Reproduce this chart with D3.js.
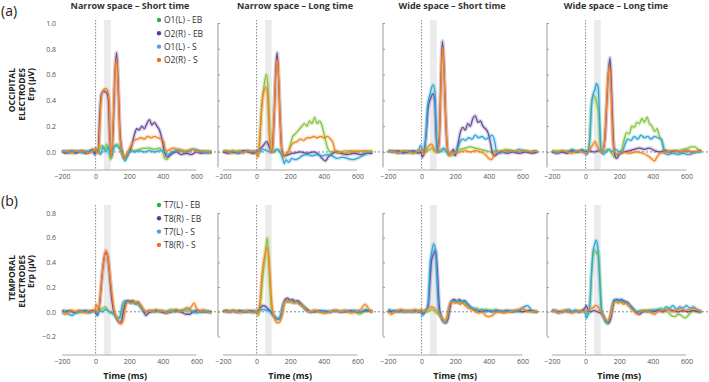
<!DOCTYPE html>
<html>
<head>
<meta charset="utf-8">
<script src="https://cdn.jsdelivr.net/npm/d3@7"></script>
<style>
  body { margin: 0; background: #fff; }
  text { font-family: "Open Sans", sans-serif; }
</style>
</head>
<body>
<div id="canvas"></div>
<script>
// Canvas size.
const WIDTH = 709;
const HEIGHT = 382;

// Labels and ticks.
const conditions = ["Narrow space – Short time", "Narrow space – Long time", "Wide space – Short time", "Wide space – Long time"];
const occLegend = ["O1(L) - EB", "O2(R) - EB", "O1(L) - S", "O2(R) - S"];
const tmpLegend = ["T7(L) - EB", "T8(R) - EB", "T7(L) - S", "T8(R) - S"];
const timeTicks = [-200, 0, 200, 400, 600];
const occTicks = [0, 0.2, 0.4, 0.6, 0.8, 1.0];
const tmpTicks = [-0.2, 0, 0.2, 0.4, 0.6, 0.8];

// Occipital, narrow space - short time. [time ms, erp uV]
const occNS_O1EB = [[-200,0.01],[-180,0],[-160,0.01],[-140,-0.01],[-120,0.01],[-100,0],[-80,0.01],[-60,-0.01],[-40,0.01],[-20,0],[0,0.02],[10,-0.01],[25,0.03],[40,0.05],[55,0.02],[65,0.06],[80,0.0],[90,-0.06],[100,0.0],[115,0.05],[130,0.06],[150,0.02],[165,-0.02],[180,-0.05],[195,-0.01],[210,0.02],[230,0.01],[260,0.02],[290,0.03],[320,0.03],[350,0.02],[380,0.03],[400,0.0],[410,-0.05],[425,-0.06],[440,-0.02],[470,0.01],[500,0.02],[540,0.01],[580,0.02],[620,0],[660,0.01],[690,0.0]];
const occNS_O2EB = [[-200,0.01],[-180,-0.01],[-160,0],[-140,0.01],[-120,-0.01],[-100,0],[-80,0.01],[-60,-0.01],[-40,0],[-20,0.02],[-5,-0.02],[5,0.02],[15,0.0],[25,0.3],[35,0.45],[50,0.47],[65,0.46],[75,0.42],[85,0.1],[95,-0.03],[105,0.2],[115,0.6],[125,0.77],[135,0.5],[145,0.15],[155,0.02],[170,-0.05],[185,-0.03],[200,0.0],[215,0.05],[230,0.13],[245,0.18],[260,0.17],[275,0.2],[290,0.18],[305,0.22],[320,0.25],[335,0.21],[350,0.23],[365,0.2],[380,0.17],[395,0.1],[410,0.0],[425,-0.04],[440,-0.03],[460,-0.01],[480,0.0],[510,-0.02],[540,-0.01],[570,-0.02],[600,0.0],[630,-0.01],[660,0.0],[690,-0.01]];
const occNS_O1S = [[-200,0],[-180,0.01],[-160,-0.01],[-140,0.01],[-120,0],[-100,0.01],[-80,-0.01],[-60,0.01],[-40,0],[-20,0.01],[0,0],[15,0.02],[30,-0.02],[45,0.04],[60,0.0],[75,0.04],[90,-0.04],[105,0.02],[120,0.05],[140,0.03],[160,-0.02],[175,-0.07],[190,-0.03],[205,0.01],[230,0],[260,0.01],[290,0.0],[320,0.01],[350,0.0],[380,0.01],[410,0.0],[430,-0.02],[460,0.0],[500,0.01],[540,0.0],[580,0.02],[620,0.01],[660,-0.01],[690,0.0]];
const occNS_O2S = [[-200,0.01],[-180,0],[-160,0.01],[-140,-0.01],[-120,0.01],[-100,0],[-80,0.01],[-60,0],[-40,-0.01],[-20,0.01],[0,0.03],[10,-0.01],[20,0.05],[30,0.35],[40,0.46],[55,0.49],[70,0.48],[80,0.4],[88,0.05],[95,-0.04],[105,0.25],[115,0.6],[125,0.72],[135,0.45],[145,0.12],[155,0.01],[170,-0.05],[185,-0.02],[200,0.02],[215,0.06],[230,0.09],[250,0.1],[270,0.11],[290,0.1],[310,0.12],[330,0.11],[350,0.12],[370,0.11],[390,0.1],[405,0.08],[415,0.02],[430,0.01],[460,0.03],[490,0.02],[520,0.0],[550,0.01],[580,0.02],[610,0.0],[640,0.01],[670,0.0],[690,0.01]];

// Occipital, narrow space - long time.
const occNL_O1EB = [[-200,0.0],[-170,0.01],[-140,-0.01],[-110,0.01],[-80,0],[-50,0.01],[-20,-0.01],[0,0.0],[10,-0.03],[20,0.1],[30,0.35],[45,0.52],[58,0.6],[70,0.45],[80,0.1],[90,0.0],[105,0.0],[120,0.02],[140,0.0],[160,-0.03],[180,-0.02],[200,0.05],[215,0.12],[230,0.14],[250,0.17],[270,0.2],[285,0.22],[300,0.2],[315,0.24],[330,0.22],[345,0.27],[360,0.22],[375,0.24],[390,0.2],[405,0.12],[420,0.04],[440,0.0],[470,0.01],[500,0.0],[530,0.01],[560,0.0],[600,0.01],[640,0.0],[690,0.01]];
const occNL_O2EB = [[-200,0],[-170,-0.01],[-140,0],[-110,-0.01],[-80,0.01],[-50,0],[-20,-0.01],[0,0],[20,0.02],[40,0.05],[60,0.08],[75,0.04],[90,0.0],[105,0.3],[115,0.65],[122,0.77],[130,0.6],[140,0.25],[150,0.02],[165,-0.03],[190,-0.02],[220,-0.01],[260,0.0],[300,-0.01],[340,0.0],[370,-0.02],[390,-0.05],[410,-0.07],[425,-0.04],[445,-0.02],[470,0.0],[500,-0.01],[540,-0.02],[580,-0.01],[620,-0.02],[660,-0.01],[690,-0.01]];
const occNL_O1S = [[-200,0.01],[-170,0],[-140,0.01],[-110,-0.01],[-80,0.0],[-50,0.01],[-20,0],[0,0.01],[20,0.0],[40,0.02],[60,0.01],[80,0.0],[100,0.0],[120,0.02],[140,0.0],[155,-0.05],[165,-0.09],[175,-0.06],[190,-0.08],[210,-0.05],[230,-0.06],[250,-0.05],[270,-0.03],[300,-0.02],[330,-0.03],[360,-0.02],[390,-0.03],[420,-0.02],[450,-0.03],[480,-0.05],[510,-0.04],[540,-0.05],[570,-0.06],[600,-0.05],[630,-0.03],[660,-0.01],[690,0.0]];
const occNL_O2S = [[-200,0.0],[-180,0.01],[-160,-0.01],[-140,0.01],[-120,0],[-100,0.01],[-80,-0.01],[-60,0.01],[-40,0],[-20,0.01],[0,-0.01],[8,-0.04],[18,0.1],[28,0.3],[40,0.45],[55,0.5],[65,0.45],[75,0.15],[85,0.0],[95,0.0],[105,0.3],[115,0.6],[122,0.72],[130,0.6],[140,0.25],[150,0.02],[160,-0.04],[175,-0.01],[190,0.0],[205,0.05],[220,0.07],[240,0.08],[260,0.1],[280,0.09],[300,0.11],[320,0.11],[340,0.12],[360,0.11],[380,0.12],[400,0.11],[420,0.12],[440,0.1],[455,0.07],[465,0.02],[480,-0.01],[500,0.0],[530,-0.01],[560,0.01],[600,0.0],[640,0.01],[690,0.0]];

// Occipital, wide space - short time.
const occWS_O1EB = [[-200,0],[-170,0.01],[-140,0],[-110,0.01],[-80,-0.01],[-50,0],[-20,0.01],[0,0],[20,0.02],[40,0.01],[60,0.03],[80,0.0],[100,0.0],[130,0.02],[160,-0.02],[180,-0.03],[200,0.0],[230,0.02],[260,0.03],[290,0.04],[320,0.03],[350,0.02],[380,0.01],[410,0.0],[440,0.01],[470,0.0],[500,0.02],[540,0.01],[580,0.0],[620,0.01],[660,0.0],[690,0.0]];
const occWS_O2EB = [[-200,0.01],[-170,0],[-140,0.01],[-110,-0.01],[-80,0],[-50,0.01],[-20,-0.01],[-5,0.0],[5,-0.04],[15,0.0],[28,0.15],[40,0.35],[55,0.42],[68,0.45],[78,0.4],[88,0.1],[95,0.0],[105,0.1],[115,0.55],[124,0.86],[132,0.7],[142,0.3],[152,0.05],[162,-0.02],[175,-0.01],[190,0.02],[200,-0.03],[215,0.05],[230,0.15],[245,0.19],[260,0.17],[275,0.22],[290,0.2],[305,0.26],[320,0.28],[335,0.23],[350,0.24],[365,0.2],[380,0.18],[395,0.15],[410,0.07],[420,0.0],[435,-0.03],[455,-0.01],[480,0.0],[510,-0.01],[540,0.0],[580,-0.01],[620,0.0],[660,-0.01],[690,0.0]];
const occWS_O1S = [[-200,0.0],[-170,0.01],[-140,-0.01],[-110,0.0],[-80,0.01],[-50,-0.01],[-20,0.01],[-5,0.05],[5,0.02],[15,0.0],[25,0.12],[35,0.35],[50,0.45],[60,0.5],[70,0.52],[80,0.45],[88,0.15],[95,0.02],[110,0.0],[130,0.03],[150,0.0],[165,-0.02],[180,0.0],[200,-0.01],[215,0.03],[230,0.08],[245,0.1],[260,0.09],[280,0.11],[300,0.1],[320,0.13],[340,0.11],[360,0.12],[380,0.1],[400,0.11],[420,0.13],[435,0.08],[445,0.01],[460,-0.01],[490,0.0],[520,0.01],[550,0.0],[580,0.02],[610,0.01],[640,0.0],[670,0.01],[690,0.0]];
const occWS_O2S = [[-200,0.01],[-170,0],[-140,-0.01],[-110,0.01],[-80,0],[-50,-0.01],[-20,0.01],[0,0.02],[15,-0.02],[30,0.02],[45,0.05],[60,0.06],[75,0.02],[88,0.0],[98,0.0],[108,0.2],[118,0.65],[126,0.81],[134,0.6],[144,0.25],[154,0.03],[165,-0.03],[180,0.0],[200,-0.01],[230,0.0],[260,0.01],[290,0.0],[320,0.01],[350,0.0],[380,-0.02],[400,-0.05],[415,-0.06],[430,-0.03],[450,0.0],[480,0.01],[510,0.0],[540,0.01],[580,0.0],[620,0.01],[660,0.0],[690,0.01]];

// Occipital, wide space - long time.
const occWL_O1EB = [[-200,0.0],[-170,0.01],[-140,0],[-110,0.01],[-80,0],[-50,0.01],[-20,0],[0,0.01],[15,0.0],[25,0.12],[35,0.38],[45,0.44],[58,0.42],[68,0.36],[78,0.3],[86,0.08],[95,0.0],[110,0.0],[130,0.02],[150,0.0],[170,-0.04],[185,-0.02],[200,0.0],[215,0.02],[230,0.1],[245,0.15],[260,0.14],[275,0.2],[290,0.19],[305,0.23],[320,0.22],[335,0.26],[350,0.23],[365,0.27],[380,0.22],[395,0.2],[410,0.16],[425,0.18],[440,0.12],[455,0.08],[470,0.02],[490,0.01],[520,0.0],[550,0.01],[580,0.02],[610,0.03],[630,0.04],[650,0.04],[670,0.02],[690,0.01]];
const occWL_O2EB = [[-200,0.0],[-170,-0.01],[-140,0.0],[-110,-0.01],[-80,0.01],[-50,0],[-20,0.01],[0,0.0],[20,0.01],[50,0.0],[80,0.01],[100,0.0],[115,0.1],[125,0.35],[135,0.6],[145,0.73],[155,0.45],[165,0.1],[175,-0.03],[185,-0.05],[200,-0.02],[230,0.0],[260,0.01],[290,0.02],[320,0.03],[350,0.02],[380,0.03],[410,0.01],[440,0.0],[470,0.01],[500,0.0],[530,0.01],[560,0.0],[600,0.01],[640,0.0],[690,0.01]];
const occWL_O1S = [[-200,0.01],[-170,-0.01],[-140,0.01],[-110,0],[-80,0.02],[-50,0],[-20,0.02],[-5,0.0],[5,-0.02],[15,0.0],[25,0.1],[35,0.35],[45,0.45],[55,0.48],[65,0.53],[75,0.5],[85,0.2],[92,0.02],[105,-0.02],[120,0.0],[140,0.02],[160,0.0],[180,0.02],[200,0.0],[220,0.01],[235,0.06],[250,0.1],[270,0.09],[290,0.12],[310,0.1],[330,0.13],[350,0.11],[370,0.12],[390,0.1],[410,0.12],[430,0.11],[450,0.1],[462,0.04],[470,-0.01],[490,-0.02],[520,-0.01],[550,-0.02],[580,-0.01],[610,-0.02],[640,-0.01],[670,0.0],[690,0.0]];
const occWL_O2S = [[-200,0.01],[-170,0.0],[-140,0.01],[-110,0.0],[-80,-0.01],[-50,0.01],[-20,0.0],[0,-0.01],[20,0.01],[40,0.05],[55,0.08],[70,0.04],[85,0.01],[100,0.0],[112,0.08],[122,0.3],[132,0.55],[142,0.67],[152,0.45],[162,0.1],[172,0.0],[190,-0.02],[220,0.0],[260,-0.01],[300,0.0],[340,-0.01],[370,-0.03],[390,-0.05],[410,-0.07],[425,-0.04],[445,-0.01],[480,0.0],[520,0.01],[560,0.0],[600,0.01],[640,0.0],[690,0.01]];

// Temporal, narrow space - short time.
const tmpNS_T7EB = [[-200,0.0],[-180,0.01],[-160,0.0],[-140,0.01],[-120,0.0],[-100,-0.01],[-80,0.0],[-60,0.01],[-40,0.0],[-20,0.01],[0,0.0],[15,0.01],[35,0.02],[55,0.04],[75,0.01],[95,-0.01],[115,-0.02],[135,-0.05],[150,-0.03],[162,0.03],[172,0.07],[188,0.08],[205,0.09],[220,0.07],[235,0.08],[250,0.06],[265,0.04],[280,0.01],[300,0.0],[330,0.01],[360,0.0],[390,0.01],[420,0.0],[450,0.02],[480,0.01],[510,0.0],[540,0.01],[570,0.0],[600,0.01],[640,0.0],[690,0.0]];
const tmpNS_T8EB = [[-200,0.01],[-180,0.0],[-160,0.01],[-140,0.0],[-120,-0.01],[-100,0.01],[-80,0],[-60,0.01],[-40,0],[-20,0.01],[0,0.0],[10,-0.03],[20,0.02],[30,0.15],[45,0.38],[60,0.48],[70,0.46],[82,0.32],[95,0.12],[108,0.0],[120,-0.04],[135,-0.08],[145,-0.09],[155,-0.07],[165,0.0],[178,0.07],[190,0.09],[205,0.08],[220,0.09],[235,0.07],[250,0.08],[265,0.05],[280,0.02],[290,-0.01],[300,-0.03],[315,-0.01],[330,0.0],[360,0.01],[390,0.0],[420,-0.01],[450,0.0],[480,0.01],[510,0.0],[540,-0.02],[560,-0.02],[580,0.0],[610,0.01],[640,0.0],[690,0.0]];
const tmpNS_T7S = [[-200,0.01],[-180,0.0],[-160,-0.02],[-140,-0.03],[-120,-0.01],[-100,0.0],[-80,0.01],[-60,0.0],[-40,-0.01],[-20,0.0],[0,0.01],[10,-0.02],[20,0.01],[40,0.0],[60,0.02],[80,0.0],[100,-0.01],[115,-0.03],[130,-0.06],[145,-0.04],[155,0.03],[165,0.08],[180,0.09],[195,0.08],[210,0.07],[225,0.08],[240,0.06],[255,0.07],[270,0.04],[285,0.01],[300,0.0],[320,0.01],[350,0.0],[380,0.01],[410,0.0],[440,0.01],[470,0.0],[500,0.01],[530,0.02],[550,0.03],[570,0.01],[600,-0.01],[630,0.0],[660,0.01],[690,-0.01]];
const tmpNS_T8S = [[-200,-0.01],[-180,-0.02],[-160,0.0],[-140,0.01],[-120,0.0],[-100,0.01],[-80,0.0],[-60,-0.01],[-40,0.01],[-20,0.0],[-5,0.01],[5,0.06],[15,0.0],[25,0.08],[35,0.25],[50,0.42],[62,0.5],[72,0.45],[85,0.3],[100,0.12],[112,0.0],[125,-0.05],[140,-0.08],[150,-0.1],[162,-0.08],[172,-0.02],[182,0.06],[195,0.08],[210,0.07],[225,0.09],[240,0.07],[255,0.08],[270,0.05],[285,0.02],[300,0.0],[320,0.01],[340,0.0],[360,0.02],[380,0.0],[400,0.01],[420,-0.01],[440,0.0],[460,0.01],[480,0.02],[500,0.0],[520,0.01],[540,0.03],[555,0.02],[570,0.04],[585,0.07],[600,0.03],[620,0.0],[640,0.02],[660,0.0],[690,-0.01]];

// Temporal, narrow space - long time.
const tmpNL_T7EB = [[-200,0.0],[-180,0.01],[-160,0.0],[-140,0.01],[-120,0.0],[-100,0.01],[-80,0.0],[-60,0.01],[-40,0.0],[-20,0.01],[0,0.0],[10,-0.03],[22,0.05],[35,0.25],[50,0.45],[64,0.6],[74,0.35],[84,0.1],[92,0.0],[105,-0.04],[120,-0.06],[135,-0.05],[150,-0.02],[160,0.06],[172,0.09],[185,0.08],[200,0.1],[215,0.08],[230,0.09],[245,0.08],[260,0.07],[280,0.05],[300,0.02],[320,0.0],[340,0.01],[370,0.0],[400,-0.01],[430,0.0],[460,0.01],[490,0.0],[520,0.01],[550,0.0],[580,0.01],[610,-0.02],[640,0.0],[670,0.01],[690,0.0]];
const tmpNL_T8EB = [[-200,0.0],[-180,0.01],[-160,0.0],[-140,0.01],[-120,0.0],[-100,0.01],[-80,0.0],[-60,0.0],[-40,0.01],[-20,0.0],[0,0.0],[20,0.03],[40,0.05],[55,0.04],[70,0.02],[85,0.0],[100,-0.03],[115,-0.05],[130,-0.06],[145,-0.03],[158,0.05],[170,0.1],[185,0.11],[200,0.09],[215,0.1],[230,0.08],[245,0.09],[260,0.07],[280,0.04],[300,0.02],[320,0.0],[350,0.0],[380,0.01],[410,0.0],[440,0.0],[470,0.01],[500,0.0],[530,0.0],[560,0.01],[590,0.0],[620,0.0],[650,0.01],[690,0.0]];
const tmpNL_T7S = [[-200,0.01],[-180,0.0],[-160,0.0],[-140,0.01],[-120,0.0],[-100,0.0],[-80,0.01],[-60,0.0],[-40,0.0],[-20,0.01],[0,0.0],[20,0.01],[40,0.02],[60,0.01],[80,0.0],[95,-0.02],[110,-0.04],[125,-0.06],[140,-0.05],[152,0.02],[165,0.08],[180,0.09],[195,0.08],[210,0.09],[225,0.07],[240,0.08],[255,0.06],[275,0.04],[295,0.01],[320,0.0],[350,0.01],[380,0.0],[410,0.01],[440,0.0],[470,0.01],[500,0.0],[530,0.01],[560,0.0],[590,0.01],[620,0.0],[650,0.02],[690,0.0]];
const tmpNL_T8S = [[-200,0.01],[-180,0.0],[-160,0.01],[-140,0.0],[-120,0.01],[-100,-0.01],[-80,0.0],[-60,0.01],[-40,0.0],[-20,-0.01],[0,0.01],[8,-0.02],[20,0.08],[32,0.3],[48,0.45],[62,0.52],[72,0.45],[82,0.25],[92,0.05],[100,-0.02],[110,-0.07],[125,-0.09],[140,-0.08],[150,-0.04],[160,0.04],[170,0.09],[185,0.08],[200,0.09],[215,0.07],[230,0.08],[245,0.07],[260,0.06],[280,0.04],[300,0.01],[320,0.0],[350,0.01],[380,0.0],[410,-0.01],[440,0.0],[470,0.01],[500,0.0],[530,0.01],[560,-0.01],[590,0.0],[620,0.02],[645,0.06],[660,0.04],[680,0.0],[690,0.01]];

// Temporal, wide space - short time.
const tmpWS_T7EB = [[-200,0.0],[-180,0.01],[-160,0.0],[-140,0.01],[-120,0.0],[-100,0.01],[-80,0.0],[-60,0.01],[-40,0.0],[-20,0.01],[0,0.0],[20,0.01],[40,0.0],[60,0.02],[80,0.0],[100,-0.02],[120,-0.05],[140,-0.07],[155,-0.04],[165,0.03],[178,0.08],[192,0.08],[207,0.09],[222,0.07],[237,0.08],[252,0.07],[268,0.05],[285,0.03],[305,0.02],[330,0.03],[350,0.01],[380,0.02],[410,0.01],[440,0.02],[470,0.0],[500,0.01],[530,0.0],[560,0.01],[590,0.0],[620,0.01],[660,0.0],[690,0.0]];
const tmpWS_T8EB = [[-200,0.01],[-180,0.0],[-160,0.01],[-140,0.0],[-120,0.01],[-100,0.0],[-80,0.01],[-60,0.0],[-40,0.01],[-20,0.0],[0,0.0],[10,-0.02],[25,0.01],[40,0.05],[50,0.25],[60,0.42],[72,0.47],[84,0.5],[95,0.3],[105,0.05],[115,-0.03],[130,-0.08],[145,-0.09],[158,-0.05],[168,0.03],[180,0.09],[195,0.1],[210,0.08],[225,0.1],[240,0.08],[255,0.09],[270,0.07],[290,0.04],[310,0.02],[330,0.01],[360,0.0],[390,0.01],[420,0.0],[450,0.01],[480,0.0],[510,0.01],[540,0.0],[570,0.01],[600,0.0],[640,0.01],[690,0.0]];
const tmpWS_T7S = [[-200,0.02],[-180,0.01],[-160,0.0],[-140,0.01],[-120,0.0],[-100,0.01],[-80,0.0],[-60,0.01],[-40,0.0],[-20,0.01],[-5,0.0],[5,-0.03],[15,0.0],[30,0.02],[40,0.1],[50,0.38],[60,0.48],[72,0.55],[82,0.5],[92,0.25],[100,0.03],[110,-0.02],[125,-0.07],[140,-0.09],[152,-0.06],[162,0.02],[175,0.08],[190,0.09],[205,0.08],[220,0.09],[235,0.08],[250,0.09],[265,0.07],[280,0.05],[300,0.03],[320,0.02],[340,0.01],[360,0.02],[380,0.0],[410,0.01],[440,0.0],[470,0.01],[500,0.0],[530,0.01],[560,0.0],[590,0.02],[610,0.04],[630,0.05],[650,0.02],[670,0.0],[690,0.0]];
const tmpWS_T8S = [[-200,0.0],[-180,-0.02],[-160,0.0],[-140,0.01],[-120,0.02],[-100,0.0],[-80,0.01],[-60,0.0],[-40,0.02],[-20,0.0],[0,0.02],[15,0.0],[35,0.02],[55,0.04],[75,0.03],[95,0.0],[110,-0.03],[125,-0.06],[140,-0.08],[152,-0.05],[160,0.02],[172,0.07],[185,0.08],[200,0.07],[215,0.08],[230,0.06],[245,0.07],[260,0.05],[280,0.03],[300,0.02],[320,0.0],[340,-0.01],[360,0.0],[380,-0.03],[400,-0.04],[420,-0.03],[440,-0.01],[460,0.0],[490,-0.01],[520,0.0],[550,0.01],[580,0.02],[600,0.03],[620,0.01],[650,0.0],[690,0.0]];

// Temporal, wide space - long time.
const tmpWL_T7EB = [[-200,0.0],[-180,0.01],[-160,0.0],[-140,0.01],[-120,0.0],[-100,0.01],[-80,0.0],[-60,0.01],[-40,0.0],[-20,0.01],[0,0.0],[10,-0.02],[25,0.05],[35,0.3],[45,0.46],[55,0.5],[65,0.47],[75,0.49],[85,0.3],[95,0.02],[105,-0.04],[118,-0.08],[130,-0.1],[142,-0.08],[155,0.0],[165,0.07],[178,0.09],[190,0.08],[205,0.09],[220,0.08],[235,0.08],[250,0.06],[265,0.04],[280,0.02],[300,0.0],[330,0.01],[360,0.0],[390,0.02],[420,0.01],[450,0.03],[470,0.01],[490,0.0],[510,-0.03],[530,-0.04],[550,-0.02],[570,-0.03],[590,-0.05],[610,-0.03],[630,0.0],[650,0.01],[670,0.0],[690,0.0]];
const tmpWL_T8EB = [[-200,0.0],[-180,0.01],[-160,0.0],[-140,0.0],[-120,0.01],[-100,0.0],[-80,0.0],[-60,0.01],[-40,0.0],[-20,0.01],[-5,0.03],[5,0.05],[15,0.01],[30,0.0],[50,0.01],[70,0.0],[90,-0.01],[105,-0.03],[120,-0.07],[135,-0.09],[148,-0.06],[160,0.03],[170,0.09],[185,0.1],[200,0.09],[215,0.1],[230,0.08],[245,0.08],[260,0.06],[280,0.03],[300,0.0],[320,-0.02],[340,0.0],[370,0.01],[400,0.0],[430,0.01],[460,0.0],[490,0.02],[520,0.01],[550,0.0],[580,0.01],[610,0.0],[640,0.01],[670,0.0],[690,0.0]];
const tmpWL_T7S = [[-200,0.02],[-180,0.0],[-160,-0.01],[-140,0.0],[-120,0.01],[-100,0.02],[-80,0.0],[-60,0.01],[-40,0.0],[-20,0.01],[-5,0.0],[5,-0.05],[15,-0.02],[25,0.05],[35,0.3],[45,0.5],[55,0.55],[63,0.58],[72,0.52],[82,0.3],[92,0.05],[100,-0.02],[112,-0.06],[125,-0.09],[138,-0.07],[150,-0.02],[160,0.06],[172,0.1],[185,0.09],[200,0.1],[215,0.08],[230,0.09],[245,0.07],[260,0.06],[275,0.03],[290,0.01],[310,0.0],[340,0.01],[370,0.0],[400,0.01],[430,0.02],[460,0.01],[480,0.04],[500,0.03],[520,0.05],[540,0.02],[560,0.04],[580,0.03],[600,0.05],[620,0.03],[640,0.04],[660,0.02],[680,0.01],[690,0.0]];
const tmpWL_T8S = [[-200,0.0],[-180,0.01],[-160,-0.01],[-140,0.0],[-120,0.01],[-100,0.0],[-80,-0.01],[-60,0.0],[-40,0.01],[-20,0.0],[0,0.01],[20,0.02],[40,0.03],[60,0.05],[75,0.04],[90,0.0],[105,-0.03],[118,-0.06],[130,-0.08],[142,-0.06],[155,0.01],[165,0.07],[180,0.08],[195,0.07],[210,0.08],[225,0.06],[240,0.07],[255,0.05],[270,0.03],[290,0.0],[310,-0.02],[330,0.0],[360,0.01],[390,-0.01],[410,-0.02],[430,0.0],[460,0.01],[490,0.02],[520,0.0],[550,0.02],[570,0.03],[590,0.01],[620,0.02],[650,0.03],[670,0.01],[690,0.0]];

// Series colours: EB left, EB right, S left, S right.
const lineColors = ["#86c440", "#6a4c9d", "#2ea7da", "#f5841f"];
const dotColors = ["#25b14d", "#5b3f8f", "#5a9be0", "#f07021"];
const drawOrder = [0, 1, 2, 3];

// Layout.
const panelLeft = [62, 223, 388, 552];
const titleX = [130, 295, 452, 616];
const PX_PER_MS = 0.168;

const rows = [
  {
    tag: "(a)", tagY: 16, names: ["OCCIPITAL", "ELECTRODES", "Erp (μV)"], nameY: 68,
    legend: occLegend, legendY: 20, ticks: occTicks,
    domain: [-0.14, 1.0], range: [170, 23], top: 20, axisY: 170, yLine: [1.0, -0.12],
    panels: [
      [occNS_O1EB, occNS_O2EB, occNS_O1S, occNS_O2S],
      [occNL_O1EB, occNL_O2EB, occNL_O1S, occNL_O2S],
      [occWS_O1EB, occWS_O2EB, occWS_O1S, occWS_O2S],
      [occWL_O1EB, occWL_O2EB, occWL_O1S, occWL_O2S]
    ]
  },
  {
    tag: "(b)", tagY: 206, names: ["TEMPORAL", "ELECTRODES", "Erp (μV)"], nameY: 255,
    legend: tmpLegend, legendY: 205, ticks: tmpTicks,
    domain: [-0.35, 0.8], range: [355, 213], top: 205, axisY: 355, yLine: [0.8, -0.2],
    panels: [
      [tmpNS_T7EB, tmpNS_T8EB, tmpNS_T7S, tmpNS_T8S],
      [tmpNL_T7EB, tmpNL_T8EB, tmpNL_T7S, tmpNL_T8S],
      [tmpWS_T7EB, tmpWS_T8EB, tmpWS_T7S, tmpWS_T8S],
      [tmpWL_T7EB, tmpWL_T8EB, tmpWL_T7S, tmpWL_T8S]
    ]
  }
];

const svg = d3.select("#canvas")
  .append("svg")
  .attr("width", WIDTH)
  .attr("height", HEIGHT);

// Titles over the columns.
svg.selectAll("text.title")
  .data(conditions)
  .enter()
  .append("text")
  .attr("class", "title")
  .attr("x", (d, i) => titleX[i])
  .attr("y", 9)
  .attr("text-anchor", "middle")
  .style("font-size", "9px")
  .style("font-weight", "bold")
  .style("fill", "#333")
  .text(d => d);

rows.forEach((row, r) => {
  const y = d3.scaleLinear().domain(row.domain).range(row.range);
  const g = svg.append("g");

  // Panel tag and row label.
  g.append("text")
    .attr("x", 1).attr("y", row.tagY)
    .style("font-size", "14px").style("fill", "#222")
    .text(row.tag);

  const nameX = [15, 25, 34];
  row.names.forEach((n, i) => {
    g.append("text")
      .attr("transform", `translate(${nameX[i]},${row.nameY}) rotate(-90)`)
      .attr("text-anchor", "end")
      .style("font-size", "8.5px")
      .style("font-weight", "bold")
      .style("fill", "#222")
      .text(n);
  });

  // Horizontal zero line across the whole row.
  g.append("line")
    .attr("x1", panelLeft[0]).attr("x2", WIDTH)
    .attr("y1", y(0)).attr("y2", y(0))
    .attr("stroke", "#555").attr("stroke-width", 0.7)
    .attr("stroke-dasharray", "2,2");

  row.panels.forEach((series, p) => {
    const x = d3.scaleLinear()
      .domain([-200, 700])
      .range([panelLeft[p], panelLeft[p] + 900 * PX_PER_MS]);

    // Analysis window.
    g.append("rect")
      .attr("x", x(50)).attr("width", x(90) - x(50))
      .attr("y", row.top).attr("height", row.axisY - row.top)
      .attr("fill", "#ebebeb");

    // Stimulus onset.
    g.append("line")
      .attr("x1", x(0)).attr("x2", x(0))
      .attr("y1", row.top).attr("y2", row.axisY)
      .attr("stroke", "#666").attr("stroke-width", 0.8)
      .attr("stroke-dasharray", "1.5,1.5");

    // X axis.
    const xAxis = d3.axisBottom(x).tickValues(timeTicks).tickSize(0).tickPadding(4)
      .tickFormat(d3.format("d"));
    const ax = g.append("g")
      .attr("transform", `translate(0,${row.axisY})`)
      .call(xAxis);
    ax.select(".domain")
      .attr("d", `M${x(-200)},0H${x(600)}`)
      .attr("stroke", "#a8a8a8");
    ax.selectAll("text").style("font-size", "7px").style("fill", "#555")
      .style("font-family", "Open Sans, sans-serif");

    // Y axis: labels on the first panel, plain line on the others.
    if (p === 0) {
      const yAxis = d3.axisLeft(y).tickValues(row.ticks).tickSize(0).tickPadding(0)
        .tickFormat(d3.format(".1f"));
      const ay = g.append("g")
        .attr("transform", `translate(${panelLeft[0] - 6},0)`)
        .call(yAxis);
      ay.select(".domain").remove();
      ay.selectAll("text").style("font-size", "7px").style("fill", "#555")
        .style("font-family", "Open Sans, sans-serif");
    } else {
      const yAxis = d3.axisRight(y).tickValues(row.ticks).tickSize(2).tickSizeOuter(0)
        .tickFormat("");
      const ay = g.append("g")
        .attr("transform", `translate(${panelLeft[p] - 5},0)`)
        .call(yAxis);
      ay.select(".domain")
        .attr("d", `M0,${y(row.yLine[0])}V${y(row.yLine[1])}`)
        .attr("stroke", "#999");
      ay.selectAll(".tick line").attr("stroke", "#999");
    }

    const line = d3.line()
      .x(d => x(d[0]))
      .y(d => y(d[1]))
      .curve(d3.curveMonotoneX);

    // Error band (soft wide stroke) then the mean line.
    drawOrder.forEach(k => {
      g.append("path")
        .datum(series[k])
        .attr("d", line)
        .attr("fill", "none")
        .attr("stroke", lineColors[k])
        .attr("stroke-opacity", 0.25)
        .attr("stroke-width", 4)
        .attr("stroke-linejoin", "round");
    });
    drawOrder.forEach(k => {
      g.append("path")
        .datum(series[k])
        .attr("d", line)
        .attr("fill", "none")
        .attr("stroke", lineColors[k])
        .attr("stroke-width", 1.3)
        .attr("stroke-linejoin", "round");
    });

    // Time label under the bottom row.
    if (r === 1) {
      g.append("text")
        .attr("x", x(200) - (p === 0 ? 4 : 0))
        .attr("y", 379)
        .attr("text-anchor", "middle")
        .style("font-size", "9px")
        .style("font-weight", "bold")
        .style("fill", "#222")
        .text("Time (ms)");
    }
  });

  // Legend.
  const lg = g.append("g").attr("transform", `translate(159,${row.legendY})`);
  row.legend.forEach((name, i) => {
    lg.append("circle")
      .attr("cx", 0).attr("cy", i * 13.3)
      .attr("r", 2.2)
      .attr("fill", dotColors[i]);
    lg.append("text")
      .attr("x", 5).attr("y", i * 13.3 + 3.2)
      .style("font-size", "8.5px")
      .style("fill", "#333")
      .text(name);
  });
});
</script>
</body>
</html>
